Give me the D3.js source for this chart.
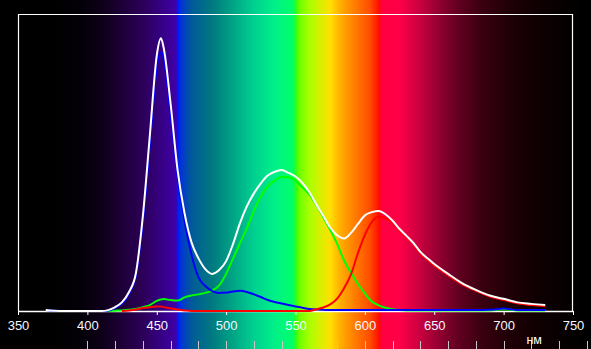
<!DOCTYPE html>
<html>
<head>
<meta charset="utf-8">
<script src="https://cdn.jsdelivr.net/npm/d3@7"></script>
<style>
  body { margin: 0; background: #000; }
  svg { display: block; }
</style>
</head>
<body>
<div id="Area1"></div>
<script>
// wavelengths, nm
var nm = [370, 380, 390, 400, 410,
  415, 420, 425, 430, 435, 440, 445, 450, 453,
  455, 460, 465, 470, 475, 480, 485, 490, 495, 500,
  505, 510, 515, 520, 525, 530, 535, 540, 545, 550,
  555, 560, 565, 570, 575, 580, 585, 590, 595, 600,
  605, 610, 615, 620, 625, 630, 635, 640, 645, 650,
  660, 670, 680, 690, 700, 710, 720, 730];

var whiteVals = [0.3, 0, 0, 0, 0,
  0.3, 1.3, 3, 6.4, 12.8, 32, 59, 86, 91.8,
  88.6, 69.7, 47.5, 33, 23.2, 17.8, 14.1, 12.5, 13.8, 16.8,
  22.6, 29.6, 35.3, 39.6, 43, 45.6, 46.9, 47.5, 46.5, 45.3,
  43.1, 40, 35.9, 32.1, 28.1, 25.5, 24.4, 26.3, 29.3, 32.2,
  33.3, 33.7, 32.5, 30.4, 27.6, 25.3, 22.9, 19.9, 17.8, 15.8,
  12.5, 9.4, 7.1, 5.2, 4.1, 2.9, 2.4, 2];

var blueVals = [0.3, 0, 0, 0, 0,
  0.2, 1, 2.5, 5.7, 12, 30, 56, 82, 87,
  85, 66, 45.5, 30.5, 19, 11.4, 8.4, 6.7, 6.1, 6.2,
  6.6, 6.8, 6.4, 5.6, 4.7, 3.7, 3, 2.5, 2, 1.5,
  1.1, 0.7, 0.5, 0.4, 0.3, 0.3, 0.3, 0.3, 0.3, 0.3,
  0.3, 0.3, 0.3, 0.3, 0.3, 0.3, 0.3, 0.3, 0.3, 0.3,
  0.3, 0.3, 0.3, 0.4, 0.8, 0.3, 0.3, 0.3];

var greenVals = [null, null, null, null, 0,
  0, 0.1, 0.2, 0.4, 0.7, 1.3, 2, 3.4, 3.9,
  4, 3.7, 3.5, 4.6, 5.2, 5.6, 6.1, 6.9, 8.6, 12.5,
  17.7, 22.9, 27.9, 33.7, 38.6, 42, 43.9, 45.1, 45, 43.9,
  41.6, 39.2, 35.7, 31.6, 27.3, 22.6, 17, 12.8, 9.1, 5.9,
  3.2, 1.9, 1.1, 0.6, 0.3, 0.2, 0.2, 0.2, 0.2, 0.2,
  0.2, 0.2, 0.2, 0.2, 0.6, 0.2, 0.2, 0.2];

var redVals = [null, null, null, null, null,
  null, null, 0, 0.2, 0.5, 1, 1.3, 1.5, 1.5,
  1.3, 0.9, 0.5, 0.2, 0, 0, 0, 0, 0, 0,
  0, 0, 0, 0, 0, 0, 0, 0, 0, 0,
  0, 0, 0.6, 1.2, 2.2, 4.2, 7.7, 12.3, 19.5, 25.6,
  29.9, 31.8, 31.2, 29.7, 27.1, 24.7, 22.4, 19.4, 17.3, 15.3,
  12, 9, 6.8, 4.9, 3.7, 2.6, 2, 1.6];

var xTicks = [350, 400, 450, 500, 550, 600, 650, 700, 750];
var stripTicks = d3.range(400, 761, 20);
var unitLabel = "нм";

// spectrum colours behind the plot
var spectrum = [
  [350, "#000000"], [375, "#000000"], [395, "#040008"], [410, "#0d0018"],
  [425, "#1e0038"], [440, "#2c0058"], [455, "#38008a"], [464, "#4000a8"],
  [465, "#0018ff"], [468, "#0038d0"], [475, "#005a98"], [490, "#007a80"],
  [505, "#00a585"], [520, "#00d090"], [535, "#00f088"], [548, "#00ff68"],
  [550.5, "#30ff10"], [553, "#70ff00"], [560, "#a8ff00"], [568, "#d8f000"],
  [575, "#ffe000"], [582, "#ffb000"], [593, "#ff7c00"], [604, "#ff4a00"],
  [610.5, "#ff0a00"], [612, "#ff0040"], [625, "#ff0048"], [640, "#c80040"],
  [654, "#900030"], [668, "#600020"], [685, "#380010"], [705, "#1e0006"],
  [726, "#0e0002"], [748, "#040000"], [760, "#000000"]
];

var W = 591, H = 349;
var svg = d3.select("#Area1")
  .append("svg")
  .attr("width", W)
  .attr("height", H);

var x = d3.scaleLinear().domain([350, 750]).range([18, 573]);
var y = d3.scaleLinear().domain([0, 100]).range([311, 14]);

var grad = svg.append("defs").append("linearGradient")
  .attr("id", "spec")
  .attr("gradientUnits", "userSpaceOnUse")
  .attr("x1", x(350)).attr("x2", x(760))
  .attr("y1", 0).attr("y2", 0);
grad.selectAll("stop")
  .data(spectrum)
  .enter().append("stop")
  .attr("offset", function(d) { return (d[0] - 350) / 410; })
  .attr("stop-color", function(d) { return d[1]; });

svg.append("rect")
  .attr("width", W).attr("height", H)
  .attr("fill", "url(#spec)");

// frame
svg.append("path")
  .attr("d", "M18.5,311V14.5H572.5V311")
  .attr("fill", "none")
  .attr("stroke", "#fff")
  .attr("stroke-width", 1.2);

var xAxis = svg.append("g")
  .attr("transform", "translate(0,311)")
  .call(d3.axisBottom(x).tickValues(xTicks).tickSize(4).tickSizeOuter(0).tickPadding(6));
xAxis.select(".domain").attr("stroke", "#fff").attr("stroke-width", 1.5);
xAxis.selectAll(".tick line").attr("stroke", "#fff");
xAxis.selectAll("text")
  .attr("fill", "#f4f8ff")
  .attr("font-family", "Liberation Sans, Arial, sans-serif")
  .attr("font-size", 13);

// lower scale strip
svg.append("g")
  .selectAll("line")
  .data(stripTicks)
  .enter().append("line")
  .attr("x1", function(d) { return Math.round(x(d)) + 0.5; })
  .attr("x2", function(d) { return Math.round(x(d)) + 0.5; })
  .attr("y1", 341).attr("y2", H)
  .attr("stroke", "#c8c8c8");

svg.append("text")
  .attr("x", x(722))
  .attr("y", 344)
  .attr("text-anchor", "middle")
  .attr("fill", "#fff")
  .attr("font-family", "Liberation Sans, Arial, sans-serif")
  .attr("font-size", 12.5)
  .text(unitLabel);

var series = [
  {vals: greenVals, color: "#00ff00"},
  {vals: blueVals, color: "#0000ff"},
  {vals: redVals, color: "#ff0000"},
  {vals: whiteVals, color: "#ffffff"}
];

var myline = d3.line()
  .defined(function(d) { return d.v !== null; })
  .x(function(d) { return x(d.nm); })
  .y(function(d) { return y(d.v); })
  .curve(d3.curveMonotoneX);

series.forEach(function(s) {
  var xy = [];
  for (var i = 0; i < nm.length; i++) {
    xy.push({nm: nm[i], v: s.vals[i]});
  }
  svg.append("path")
    .attr("d", myline(xy))
    .style("fill", "none")
    .style("stroke", s.color)
    .style("stroke-width", 2)
    .style("stroke-linejoin", "round");
});
</script>
</body>
</html>
